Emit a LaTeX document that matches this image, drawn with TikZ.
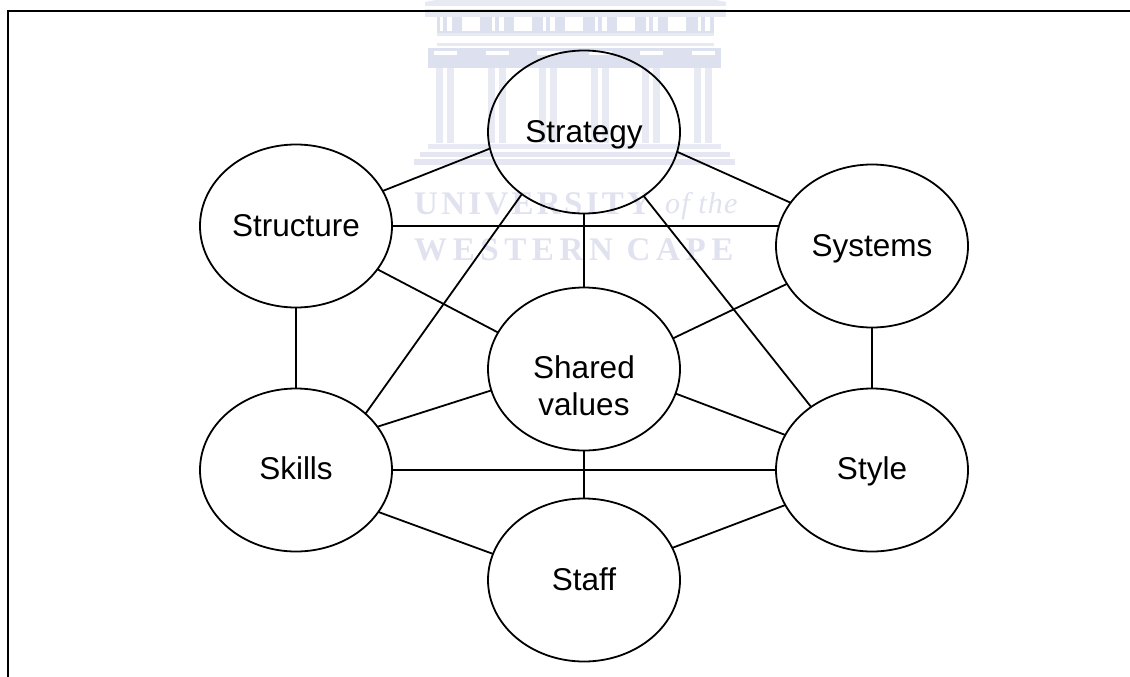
\documentclass[tikz,border=0pt]{standalone}
\usepackage{fontspec}
\setmainfont{Liberation Sans}
\newfontfamily\wmserif{Liberation Serif}
\usetikzlibrary{shapes.geometric}
\definecolor{wmdark}{HTML}{DDE0EE}
\definecolor{wmlight}{HTML}{E8EAF3}
\definecolor{wmtext}{HTML}{E0E2EF}
\tikzset{
  element/.style={ellipse,draw=black,line width=1.8pt,minimum width=192pt,minimum height=163pt,
    inner sep=0pt,outer sep=0pt,text height=20pt,text depth=0pt,
    font=\fontsize{31.5pt}{37pt}\selectfont,align=center},
  link/.style={draw=black,line width=1.8pt},
  frame/.style={draw=black,line width=2.6pt},
  wmword/.style={text=wmtext,inner sep=0pt,anchor=base west}
}
\begin{document}
\begin{tikzpicture}[x=1pt,y=-1pt]
\useasboundingbox (0,0) rectangle (1130,677);
\fill[white] (0,0) rectangle (1130,677);
% watermark: building
\fill[wmlight] (425,6) -- (425,2) -- (436,0) -- (716,0) -- (726,2) -- (726,6) -- cycle;
\fill[wmlight] (425,9) rectangle (726,17);
\fill[wmdark] (437,17) rectangle (714,33);
\foreach \k in {0,1,2,3,4,5}{
  \fill[white] ({440+51.6*\k},17) rectangle ({443+51.6*\k},31);
  \fill[white] ({447+51.6*\k},17) rectangle ({452+51.6*\k},31);
}
\foreach \k in {0,1,2,3,4}{
  \fill[white] ({462+51.6*\k},17) rectangle ({480+51.6*\k},31);
}
\fill[wmlight] (437,33) rectangle (714,36);
\fill[wmlight] (437,43) rectangle (714,46);
\fill[wmdark] (428,48) rectangle (721,68);
\foreach \k in {0,1,2,3,4,5}{
  \fill[white] ({434+51.6*\k},51) rectangle ({457+51.6*\k},55);
  \fill[wmdark!70!white] ({436+51.6*\k},68) rectangle ({454+51.6*\k},143);
  \fill[white] ({443+51.6*\k},68) rectangle ({447+51.6*\k},143);
}
\fill[wmlight] (428,144) rectangle (721,149);
\fill[wmdark!80!white] (420,152) rectangle (730,157);
\fill[wmdark!80!white] (414,159) rectangle (735,165);
% watermark: words
\node[wmword] (wmu) at (414,214) {\wmserif\addfontfeature{LetterSpace=10}\bfseries\fontsize{33pt}{33pt}\selectfont UNIVERSITY};
\node[wmword] (wmo) at (665,213) {\wmserif\addfontfeature{LetterSpace=4}\itshape\fontsize{30pt}{30pt}\selectfont of the};
\node[wmword] (wmw) at (414,260) {\wmserif\addfontfeature{LetterSpace=17}\bfseries\fontsize{33pt}{33pt}\selectfont WESTERN CAPE};
% frame
\coordinate (fa) at (8,677);
\coordinate (fb) at (8,11);
\coordinate (fc) at (1130,11);
\draw[frame] (fa) -- (fb) -- (fc);
% elements
\node[element] (strategy) at (584,132) {Strategy};
\node[element,text height=21pt] (structure) at (296,226) {Structure};
\node[element] (systems) at (872,246) {Systems};
\node[element,text height=93.4pt] (shared) at (584,369) {Shared\\values};
\node[element,text height=18pt] (skills) at (296,470) {Skills};
\node[element,text height=18pt] (style) at (872,470) {Style};
\node[element,text height=21pt] (staff) at (584,580) {Staff};
% connectors
\draw[link] (strategy.190.7) -- (structure.22.5);
\draw[link] (strategy.-12.5) -- (systems.152.4);
\draw[link] (strategy.225.2) -- (skills.39.6);
\draw[link] (strategy.-47.5) -- (style.134.5);
\draw[link] (strategy.south) -- (shared.north);
\draw[link] (structure.east) -- (structure.east -| systems.169);
\draw[link] (structure.-28.6) -- (shared.157.6);
\draw[link] (structure.south) -- (skills.north);
\draw[link] (systems.204.6) -- (shared.19.1);
\draw[link] (systems.south) -- (style.north);
\draw[link] (skills.28) -- (shared.193.4);
\draw[link] (shared.-15.3) -- (style.158.3);
\draw[link] (skills.east) -- (style.west);
\draw[link] (shared.south) -- (staff.north);
\draw[link] (skills.-27.7) -- (staff.164.1);
\draw[link] (staff.20.4) -- (style.202.5);
\end{tikzpicture}
\end{document}
